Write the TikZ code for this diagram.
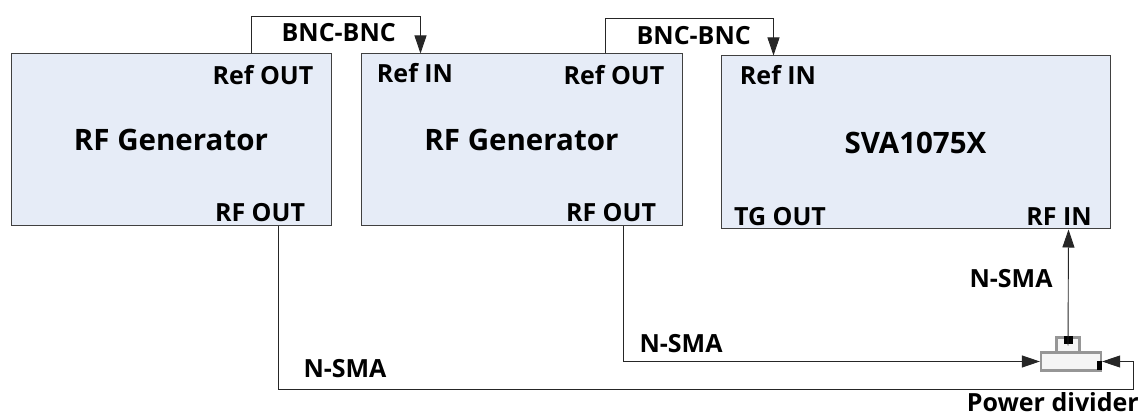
\documentclass[tikz,border=0pt]{standalone}
\usepackage{fontspec}
\setmainfont{Open Sans}
\usetikzlibrary{arrows.meta,positioning,calc}
\definecolor{boxfill}{RGB}{230,236,247}
\definecolor{boxline}{RGB}{64,64,64}
\definecolor{pdgray}{RGB}{150,150,150}
\definecolor{pdfill}{RGB}{245,245,245}
\tikzstyle{device} = [rectangle, draw=boxline, fill=boxfill, line width=1pt, font=\bfseries\fontsize{29.5}{34}\selectfont]
\tikzstyle{port} = [font=\bfseries\fontsize{25}{29}\selectfont, inner sep=0pt]
\tikzstyle{conn} = [line width=0.9pt, color=black!85, -{Triangle[length=18pt,width=12pt]}]
\tikzstyle{tee} = [rectangle, draw=pdgray, fill=pdfill, line width=2.2pt, inner sep=0pt]

\begin{document}
\begin{tikzpicture}[x=1pt, y=-1pt]
\useasboundingbox (0,0) rectangle (1143,419);
% Instruments
\node[device, minimum width=320pt, minimum height=172pt] (gen1) at (171,140) {RF Generator};
\node[device, minimum width=321pt, minimum height=172pt] (gen2) at (521.5,140) {RF Generator};
\node[device, minimum width=389pt, minimum height=173pt] (sva) at (915.5,142.5) {SVA1075X};

% Port labels
\node[port] (g1refoutl) at (263,75) {Ref OUT};
\node[port] (g1rfoutl) at (260,212.5) {RF OUT};
\node[port] (g2refinl) at (415,73) {Ref IN};
\node[port] (g2refoutl) at (614,75) {Ref OUT};
\node[port] (g2rfoutl) at (611,212.5) {RF OUT};
\node[port] (svarefinl) at (778,75) {Ref IN};
\node[port] (svatgoutl) at (780,216.5) {TG OUT};
\node[port] (svarfinl) at (1059,216.5) {RF IN};

% Ports
\coordinate (g1ref) at ([xshift=-80pt]gen1.north east);
\coordinate (g2refin) at ([xshift=60pt]gen2.north west);
\coordinate (g2ref) at ([xshift=-77pt]gen2.north east);
\coordinate (svarefin) at ([xshift=53pt]sva.north west);
\coordinate (g1rf) at ([xshift=-53pt]gen1.south east);
\coordinate (g2rf) at ([xshift=-59pt]gen2.south east);
\coordinate (svarfin) at ([xshift=-42pt]sva.south east);

% Power divider
\node[tee, minimum width=23pt, minimum height=16pt] (pdtop) at (1068,345.5) {};
\node[tee, minimum width=60pt, minimum height=18pt] (pd) at (1071,361.5) {};
\fill[black] ([xshift=-4.5pt]pdtop.north) rectangle ++(9,8);
\fill[black] ([xshift=-5pt]pd.east) rectangle ++(5,9);
\node[port, anchor=base east] (pdl) at (1139,411) {Power divider};
\coordinate (loop) at (1133,389);

% Cables
\draw[conn] (g1ref) -- ++(0,-37) -| (g2refin);
\draw[conn] (g2ref) -- ++(0,-35) -| (svarefin);
\draw[conn] (g1rf) |- (loop) |- (pd.east);
\draw[conn] (g2rf) |- (pd.west);
\draw[conn] (pdtop.center) -- (svarfin);

% Cable labels
\node[port] (bnc1) at (338.7,33) {BNC-BNC};
\node[port] (bnc2) at (693.7,35.5) {BNC-BNC};
\node[port] (nsma1) at (345,368.5) {N-SMA};
\node[port] (nsma2) at (681,343.5) {N-SMA};
\node[port] (nsma3) at (1011,278.5) {N-SMA};
\end{tikzpicture}
\end{document}
